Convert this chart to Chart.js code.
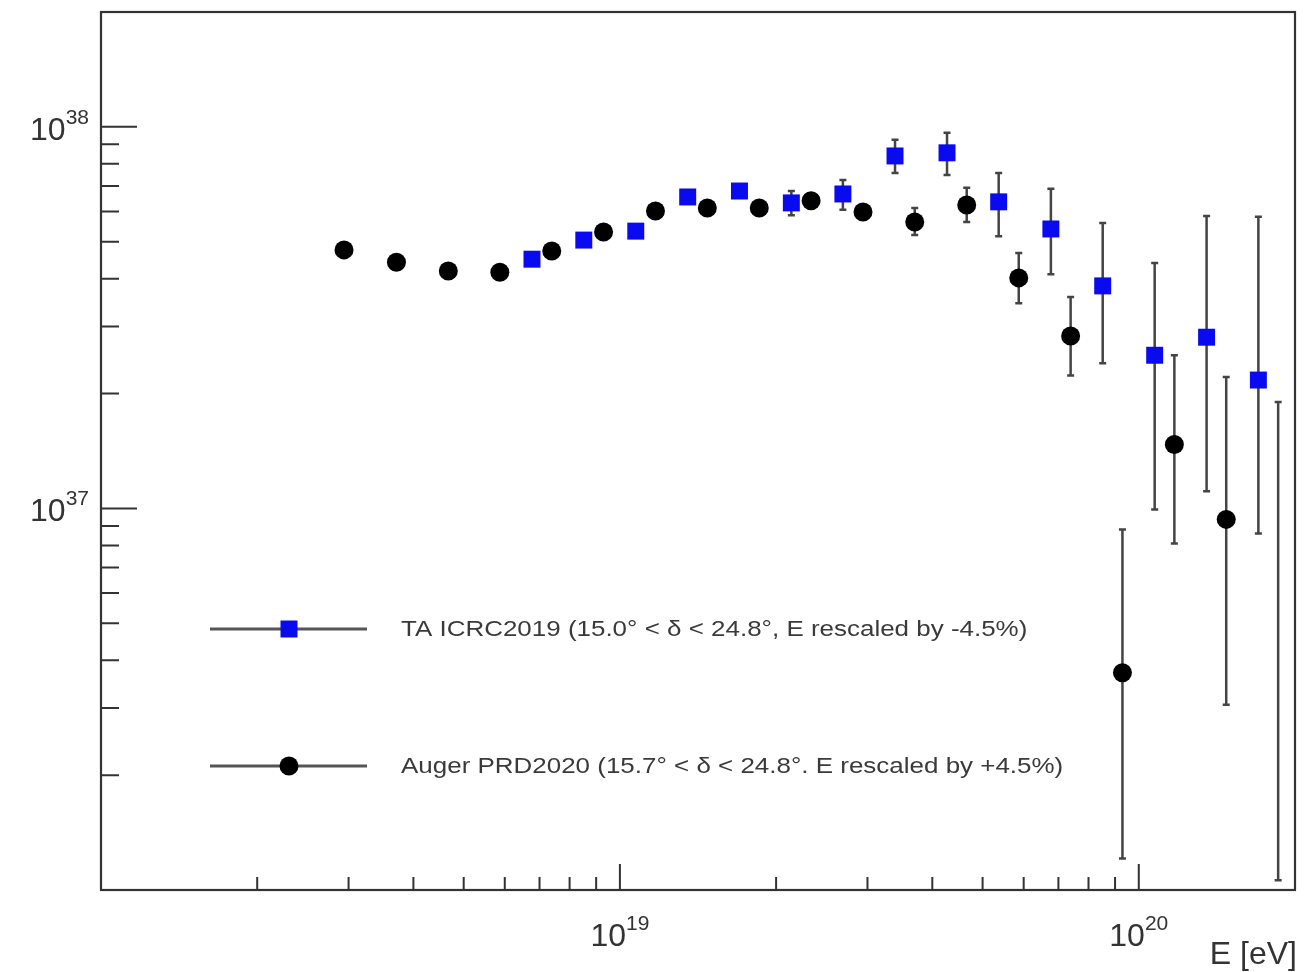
<!DOCTYPE html>
<html>
<head>
<meta charset="utf-8">
<script src="https://cdn.jsdelivr.net/npm/chart.js@4.4.1/dist/chart.umd.min.js"></script>
<style>
  html, body { margin: 0; padding: 0; background: #fff; overflow: hidden; }
  canvas { display: block; }
</style>
</head>
<body>
<canvas id="flux" width="1307" height="972"></canvas>
<script>
// ------------------------------
// DATA
// ------------------------------
const taLabel = "TA ICRC2019 (15.0° < δ < 24.8°, E rescaled by -4.5%)";
const taE    = [6.77e18, 8.52e18, 1.073e19, 1.351e19, 1.70e19, 2.14e19, 2.69e19, 3.39e19, 4.27e19, 5.37e19, 6.77e19, 8.52e19, 1.073e20, 1.351e20, 1.70e20];
const taFlux = [4.50e37, 5.05e37, 5.33e37, 6.55e37, 6.79e37, 6.32e37, 6.67e37, 8.39e37, 8.55e37, 6.36e37, 5.40e37, 3.83e37, 2.52e37, 2.81e37, 2.17e37];
const taHigh = [4.62e37, 5.18e37, 5.47e37, 6.72e37, 6.97e37, 6.79e37, 7.26e37, 9.25e37, 9.65e37, 7.57e37, 6.88e37, 5.60e37, 4.40e37, 5.84e37, 5.81e37];
const taLow  = [4.38e37, 4.92e37, 5.19e37, 6.38e37, 6.61e37, 5.87e37, 6.06e37, 7.57e37, 7.48e37, 5.17e37, 4.11e37, 2.40e37, 9.94e36, 1.11e37, 8.60e36];

const augerLabel = "Auger PRD2020 (15.7° < δ < 24.8°. E rescaled by +4.5%)";
const augerE    = [2.94e18, 3.71e18, 4.67e18, 5.87e18, 7.39e18, 9.30e18, 1.171e19, 1.474e19, 1.856e19, 2.336e19, 2.941e19, 3.70e19, 4.66e19, 5.87e19, 7.39e19, 9.30e19, 1.171e20, 1.474e20, 1.856e20];
const augerFlux = [4.76e37, 4.42e37, 4.19e37, 4.16e37, 4.73e37, 5.30e37, 6.02e37, 6.13e37, 6.13e37, 6.40e37, 5.98e37, 5.63e37, 6.24e37, 4.02e37, 2.83e37, 3.71e36, 1.47e37, 9.36e36, 8.0e35];
const augerHigh = [4.86e37, 4.51e37, 4.27e37, 4.25e37, 4.83e37, 5.42e37, 6.16e37, 6.28e37, 6.30e37, 6.60e37, 6.25e37, 6.13e37, 6.92e37, 4.67e37, 3.58e37, 8.81e36, 2.52e37, 2.21e37, 1.90e37];
const augerLow  = [4.66e37, 4.33e37, 4.11e37, 4.07e37, 4.63e37, 5.18e37, 5.88e37, 5.98e37, 5.96e37, 6.20e37, 5.72e37, 5.21e37, 5.63e37, 3.45e37, 2.23e37, 1.21e36, 8.09e36, 3.06e36, 1.06e36];

// axis ranges and labelled decades
const xMin = 1e18, xMax = 2e20;
const yMin = 1e36, yMax = 2e38;
const xLabelExp = [19, 20];
const yLabelExp = [37, 38];
const xTitle = "E [eV]";

const FONT = '"Liberation Sans", Arial, sans-serif';
const INK = "#333";

function toPoints(xs, ys, lo, hi) {
  return xs.map((v, i) => ({ x: v, y: ys[i], lo: lo[i], hi: hi[i] }));
}

// draws "10" with a superscript exponent; align = "center" | "right"
function drawPower(ctx, exp, px, baseline, align) {
  ctx.font = "32px " + FONT;
  const wBase = ctx.measureText("10").width;
  ctx.font = "21px " + FONT;
  const wExp = ctx.measureText(String(exp)).width;
  const total = wBase + wExp;
  const left = align === "right" ? px - total : px - total / 2;
  ctx.fillStyle = INK;
  ctx.textAlign = "left";
  ctx.textBaseline = "alphabetic";
  ctx.font = "32px " + FONT;
  ctx.fillText("10", left, baseline);
  ctx.font = "21px " + FONT;
  ctx.fillText(String(exp), left + wBase, baseline - 16);
}

// ------------------------------
// ROOT STYLE PLUGIN: error bars, frame, ticks, labels, legend
// ------------------------------
const rootStyle = {
  id: "rootStyle",
  beforeDatasetsDraw(chart) {
    const { ctx, chartArea: a, scales: { x, y } } = chart;
    ctx.save();
    ctx.beginPath();
    ctx.rect(a.left, a.top, a.right - a.left, a.bottom - a.top);
    ctx.clip();
    ctx.strokeStyle = "#444";
    ctx.lineWidth = 2.5;
    chart.data.datasets.forEach((ds) => {
      ds.data.forEach((p) => {
        const px = x.getPixelForValue(p.x);
        const y1 = y.getPixelForValue(p.lo);
        const y2 = y.getPixelForValue(p.hi);
        ctx.beginPath();
        ctx.moveTo(px, y1); ctx.lineTo(px, y2);
        ctx.moveTo(px - 3.5, y1); ctx.lineTo(px + 3.5, y1);
        ctx.moveTo(px - 3.5, y2); ctx.lineTo(px + 3.5, y2);
        ctx.stroke();
      });
    });
    ctx.restore();
  },
  afterDraw(chart) {
    const { ctx, chartArea: a, scales: { x, y } } = chart;
    ctx.save();

    // ticks (inside the frame, ROOT style)
    ctx.strokeStyle = INK;
    ctx.lineWidth = 2;
    ctx.beginPath();
    for (let e = 18; e <= 20; e++) {
      for (let m = 1; m <= 9; m++) {
        const v = m * Math.pow(10, e);
        if (v <= xMin || v >= xMax) continue;
        const px = x.getPixelForValue(v);
        const len = m === 1 ? 26 : 13;
        ctx.moveTo(px, a.bottom); ctx.lineTo(px, a.bottom - len);
      }
    }
    for (let e = 36; e <= 38; e++) {
      for (let m = 1; m <= 9; m++) {
        const v = m * Math.pow(10, e);
        if (v <= yMin || v >= yMax) continue;
        const py = y.getPixelForValue(v);
        const len = m === 1 ? 36 : 18;
        ctx.moveTo(a.left, py); ctx.lineTo(a.left + len, py);
      }
    }
    ctx.stroke();

    // frame
    ctx.lineWidth = 2.2;
    ctx.strokeRect(a.left, a.top, a.right - a.left, a.bottom - a.top);

    // tick labels
    xLabelExp.forEach((e) => drawPower(ctx, e, x.getPixelForValue(Math.pow(10, e)), a.bottom + 56, "center"));
    yLabelExp.forEach((e) => drawPower(ctx, e, a.left - 12, y.getPixelForValue(Math.pow(10, e)) + 13, "right"));

    // axis title
    ctx.font = "32px " + FONT;
    ctx.textAlign = "right";
    ctx.textBaseline = "alphabetic";
    ctx.fillStyle = INK;
    ctx.fillText(xTitle, a.right + 2, a.bottom + 74);

    // legend
    const rows = [a.top + 617, a.top + 754];
    chart.data.datasets.forEach((ds, i) => {
      const ly = rows[i];
      ctx.strokeStyle = "#555";
      ctx.lineWidth = 3;
      ctx.beginPath();
      ctx.moveTo(a.left + 109, ly); ctx.lineTo(a.left + 266, ly);
      ctx.stroke();
      ctx.fillStyle = ds.backgroundColor;
      const mx = a.left + 188;
      if (ds.pointStyle === "rect") {
        ctx.fillRect(mx - 8.5, ly - 8.5, 17, 17);
      } else {
        ctx.beginPath(); ctx.arc(mx, ly, 9.5, 0, Math.PI * 2); ctx.fill();
      }
      // legend text is horizontally stretched in the original
      ctx.save();
      ctx.translate(a.left + 300, ly + 1);
      ctx.scale(1.18, 1);
      ctx.font = "22px " + FONT;
      ctx.textAlign = "left";
      ctx.textBaseline = "middle";
      ctx.fillStyle = "#3a3a3a";
      ctx.fillText(ds.label, 0, 0);
      ctx.restore();
    });
    ctx.restore();
  }
};

new Chart(document.getElementById("flux"), {
  type: "scatter",
  data: {
    datasets: [
      {
        label: taLabel,
        data: toPoints(taE, taFlux, taLow, taHigh),
        pointStyle: "rect",
        pointRadius: 12,
        backgroundColor: "#0a0af0",
        borderWidth: 0,
      },
      {
        label: augerLabel,
        data: toPoints(augerE, augerFlux, augerLow, augerHigh),
        pointStyle: "circle",
        pointRadius: 9.5,
        backgroundColor: "#000000",
        borderWidth: 0,
      }
    ]
  },
  options: {
    responsive: false,
    animation: false,
    devicePixelRatio: 1,
    layout: { padding: { left: 101, right: 7, top: 12, bottom: 82 } },
    plugins: { legend: { display: false }, tooltip: { enabled: false } },
    scales: {
      x: { type: "logarithmic", min: xMin, max: xMax, display: false },
      y: { type: "logarithmic", min: yMin, max: yMax, display: false }
    }
  },
  plugins: [rootStyle]
});
</script>
</body>
</html>
